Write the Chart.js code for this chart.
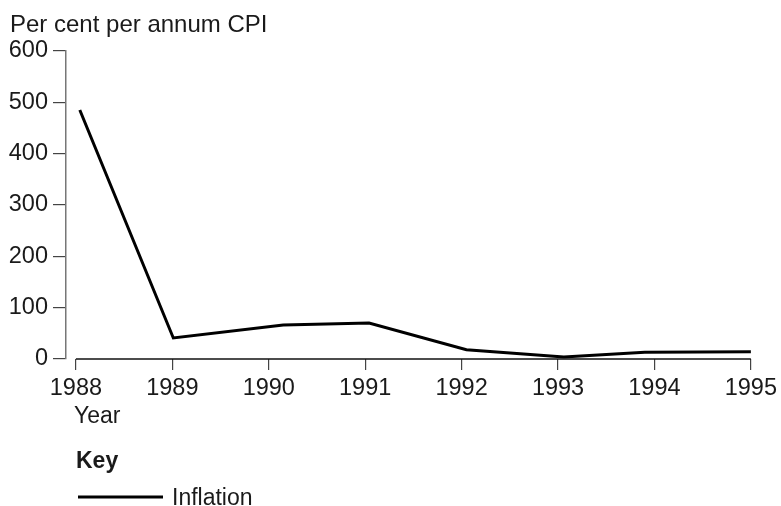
<!DOCTYPE html>
<html>
<head>
<meta charset="utf-8">
<script src="https://cdn.jsdelivr.net/npm/chart.js@4"></script>
<style>
html,body{margin:0;padding:0;background:#fff;}
#wrap{width:781px;height:506px;}
</style>
</head>
<body>
<div id="wrap"><canvas id="c" width="781" height="506"></canvas></div>
<script>
const years = [1988.04, 1989.01, 1990.15, 1991.04, 1992.05, 1993.06, 1993.9, 1995.0];
const inflation = [485, 41, 66, 70, 18, 4, 13, 14];
const yearTicks = [1988, 1989, 1990, 1991, 1992, 1993, 1994, 1995];
const valueTicks = [0, 100, 200, 300, 400, 500, 600];
const yTitle = 'Per cent per annum CPI';
const xTitle = 'Year';
const keyTitle = 'Key';
const seriesName = 'Inflation';

const FONT = '"Liberation Sans", Arial, sans-serif';
const TXT = '#1a1a1a';

const extras = {
  id: 'extras',
  afterDraw(chart) {
    const ctx = chart.ctx;
    const x = chart.scales.x, y = chart.scales.y;
    ctx.save();
    // x axis line from first to last year
    ctx.strokeStyle = '#111';
    ctx.lineWidth = 1.5;
    ctx.beginPath();
    ctx.moveTo(x.getPixelForValue(yearTicks[0]), y.getPixelForValue(0));
    ctx.lineTo(x.getPixelForValue(yearTicks[yearTicks.length - 1]), y.getPixelForValue(0));
    ctx.stroke();
    // texts
    ctx.fillStyle = TXT;
    ctx.textBaseline = 'alphabetic';
    ctx.textAlign = 'left';
    ctx.font = '24px ' + FONT;
    ctx.fillText(yTitle, 10, 32);
    ctx.font = '23px ' + FONT;
    ctx.fillText(xTitle, 74, 423);
    ctx.font = 'bold 23px ' + FONT;
    ctx.fillText(keyTitle, 76, 468);
    // legend
    const ds = chart.data.datasets[0];
    ctx.strokeStyle = ds.borderColor;
    ctx.lineWidth = ds.borderWidth;
    ctx.beginPath();
    ctx.moveTo(78, 497);
    ctx.lineTo(163, 497);
    ctx.stroke();
    ctx.font = '23px ' + FONT;
    ctx.fillText(ds.label, 172, 505);
    ctx.restore();
  }
};

new Chart(document.getElementById('c'), {
  type: 'line',
  data: {
    datasets: [{
      label: seriesName,
      data: years.map((yr, i) => ({x: yr, y: inflation[i]})),
      borderColor: '#000',
      backgroundColor: '#000',
      borderWidth: 3,
      pointRadius: 0,
      tension: 0,
      fill: false,
      clip: false
    }]
  },
  options: {
    responsive: false,
    animation: false,
    events: [],
    layout: {padding: {top: 51, right: 26, left: 0, bottom: 0}},
    plugins: {legend: {display: false}, tooltip: {enabled: false}, title: {display: false}},
    scales: {
      x: {
        type: 'linear',
        min: 1988 - 10 / 97,
        max: 1995,
        afterBuildTicks: s => { s.ticks = yearTicks.map(v => ({value: v})); },
        afterFit: s => { s.height = 147; },
        border: {display: false},
        grid: {drawOnChartArea: false, drawTicks: true, tickLength: 11, color: '#444', lineWidth: 1.2},
        ticks: {
          color: TXT,
          font: {family: FONT, size: 23.5},
          padding: 4,
          maxRotation: 0,
          autoSkip: false,
          callback: v => String(v)
        }
      },
      y: {
        type: 'linear',
        min: 0,
        max: 600,
        afterBuildTicks: s => { s.ticks = valueTicks.map(v => ({value: v})); },
        afterFit: s => { s.width = 66; },
        border: {display: true, color: '#777', width: 1.5},
        grid: {drawOnChartArea: false, drawTicks: true, tickLength: 13, color: '#444', lineWidth: 1.2},
        ticks: {
          color: TXT,
          font: {family: FONT, size: 23.5},
          padding: 5,
          callback: v => String(v)
        }
      }
    }
  },
  plugins: [extras]
});
</script>
</body>
</html>
